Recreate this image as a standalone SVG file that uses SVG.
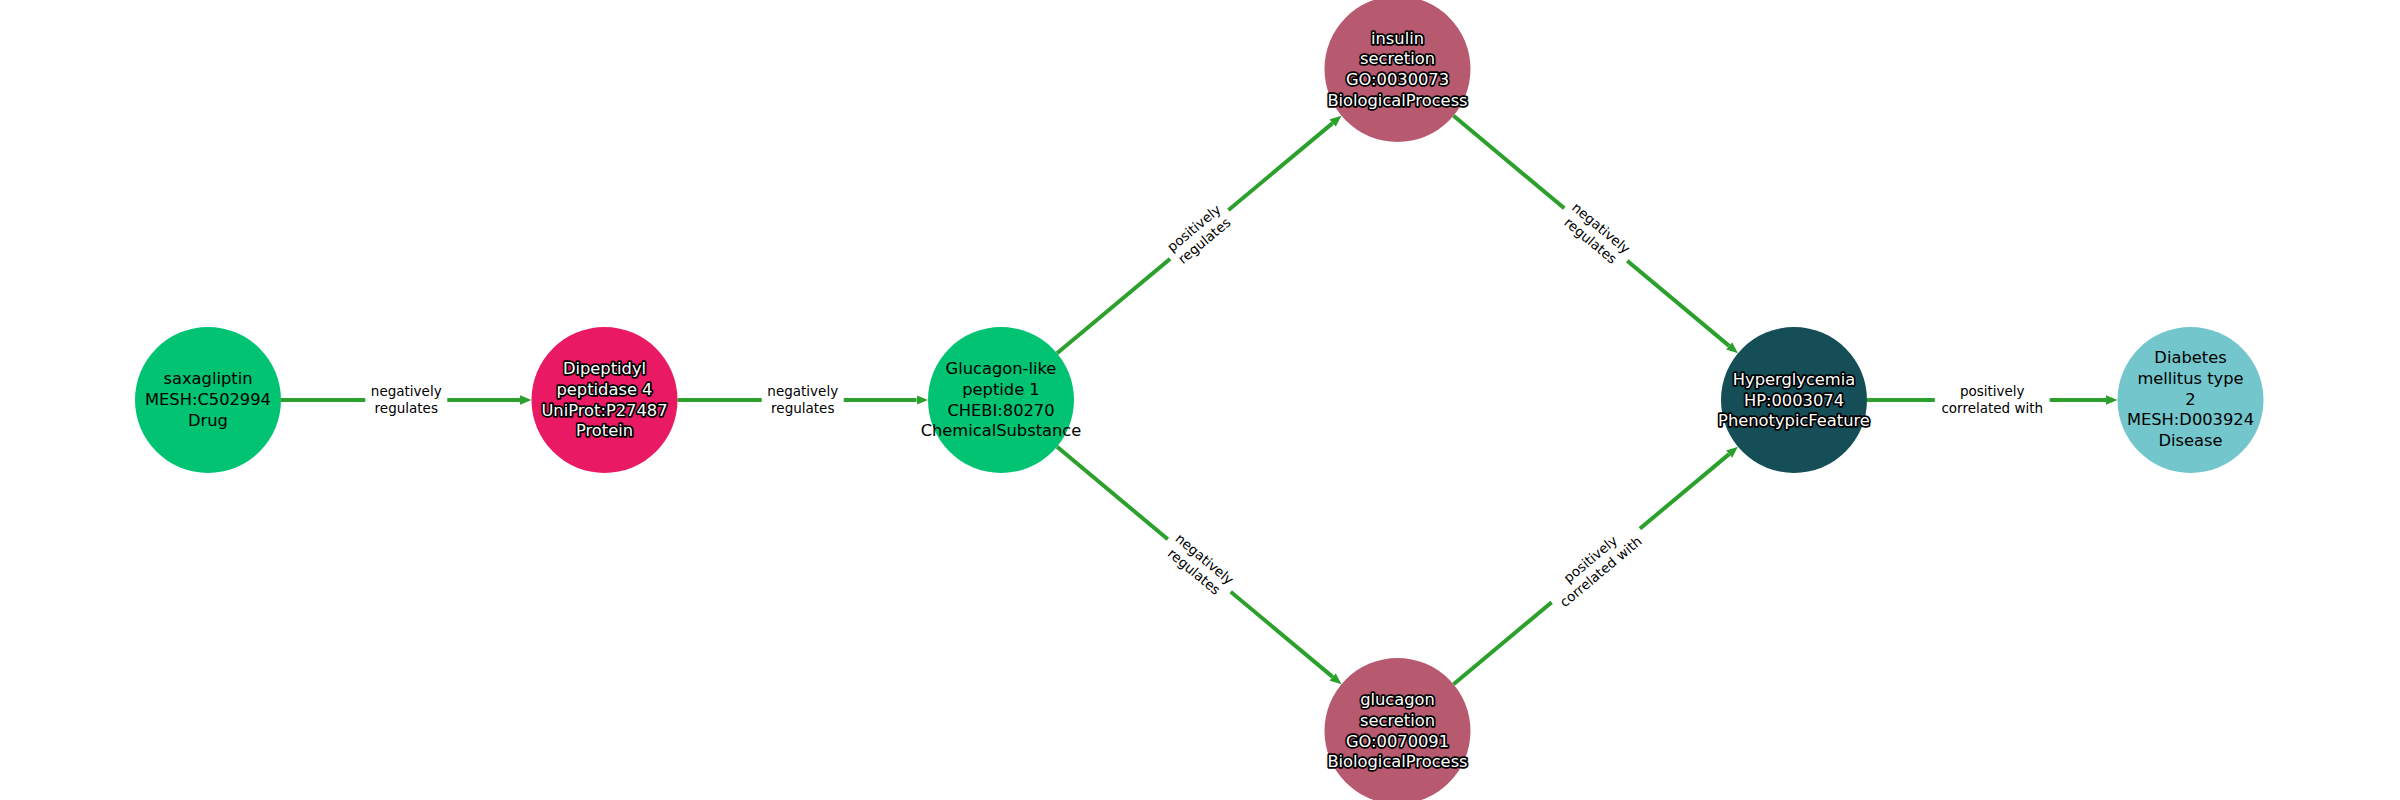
<svg xmlns="http://www.w3.org/2000/svg" width="2400" height="800" viewBox="0 0 2400 800">
<defs>
<style>
.edge{stroke:#2ca02c;stroke-width:4;fill:none}
.nl{font-family:"DejaVu Sans",sans-serif;font-size:16.3px;text-anchor:middle}
.dark{fill:#000}
.out{fill:#fff;stroke:#000;stroke-width:3.5;stroke-linejoin:round;paint-order:stroke}
.el{font-family:"DejaVu Sans",sans-serif;font-size:13.5px;text-anchor:middle;fill:#000}
.lb{fill:#fff}
</style>
<marker id="arr" markerUnits="userSpaceOnUse" markerWidth="13" markerHeight="10" refX="0" refY="4.75" orient="auto">
<path d="M0,0 L11.5,4.75 L0,9.5 z" fill="#2ca02c"/>
</marker>
</defs>
<rect width="2400" height="800" fill="#fff"/>
<g id="connectors">
<line class="edge" x1="281" y1="400" x2="520" y2="400" marker-end="url(#arr)"/>
<line class="edge" x1="677.5" y1="400" x2="916.5" y2="400" marker-end="url(#arr)"/>
<line class="edge" x1="1057.04" y1="353.22" x2="1332.63" y2="123.15" marker-end="url(#arr)"/>
<line class="edge" x1="1453.54" y1="115.78" x2="1729.13" y2="345.85" marker-end="url(#arr)"/>
<line class="edge" x1="1057.04" y1="446.78" x2="1332.63" y2="676.85" marker-end="url(#arr)"/>
<line class="edge" x1="1453.54" y1="684.22" x2="1729.13" y2="454.15" marker-end="url(#arr)"/>
<line class="edge" x1="1867" y1="400" x2="2106" y2="400" marker-end="url(#arr)"/>
<g transform="translate(406.25,400)"><rect class="lb" x="-41" y="-18" width="82" height="36"/><text class="el"><tspan x="0" y="-3.6">negatively</tspan><tspan x="0" y="12.7">regulates</tspan></text></g>
<g transform="translate(802.75,400)"><rect class="lb" x="-41" y="-18" width="82" height="36"/><text class="el"><tspan x="0" y="-3.6">negatively</tspan><tspan x="0" y="12.7">regulates</tspan></text></g>
<g transform="translate(1199.25,234.5) rotate(-39.86)"><rect class="lb" x="-38" y="-18" width="76" height="36"/><text class="el"><tspan x="0" y="-3.6">positively</tspan><tspan x="0" y="12.7">regulates</tspan></text></g>
<g transform="translate(1595.75,234.5) rotate(39.86)"><rect class="lb" x="-41" y="-18" width="82" height="36"/><text class="el"><tspan x="0" y="-3.6">negatively</tspan><tspan x="0" y="12.7">regulates</tspan></text></g>
<g transform="translate(1199.25,565.5) rotate(39.86)"><rect class="lb" x="-41" y="-18" width="82" height="36"/><text class="el"><tspan x="0" y="-3.6">negatively</tspan><tspan x="0" y="12.7">regulates</tspan></text></g>
<g transform="translate(1595.75,565.5) rotate(-39.86)"><rect class="lb" x="-57.5" y="-18" width="115" height="36"/><text class="el"><tspan x="0" y="-3.6">positively</tspan><tspan x="0" y="12.7">correlated with</tspan></text></g>
<g transform="translate(1992.25,400)"><rect class="lb" x="-57.5" y="-18" width="115" height="36"/><text class="el"><tspan x="0" y="-3.6">positively</tspan><tspan x="0" y="12.7">correlated with</tspan></text></g>
</g>
<g id="saxagliptin">
<circle cx="208" cy="400" r="73" fill="#02c372"/>
<text class="nl dark"><tspan x="208" y="384.2">saxagliptin</tspan><tspan x="208" dy="20.7">MESH:C502994</tspan><tspan x="208" dy="20.7">Drug</tspan></text>
</g>
<g id="dpp4">
<circle cx="604.5" cy="400" r="73" fill="#e91a63"/>
<text class="nl out"><tspan x="604.5" y="374.2">Dipeptidyl</tspan><tspan x="604.5" dy="20.7">peptidase 4</tspan><tspan x="604.5" dy="20.7">UniProt:P27487</tspan><tspan x="604.5" dy="20.7">Protein</tspan></text>
</g>
<g id="glp1">
<circle cx="1001" cy="400" r="73" fill="#02c372"/>
<text class="nl dark"><tspan x="1001" y="374.2">Glucagon-like</tspan><tspan x="1001" dy="20.7">peptide 1</tspan><tspan x="1001" dy="20.7">CHEBI:80270</tspan><tspan x="1001" dy="20.7">ChemicalSubstance</tspan></text>
</g>
<g id="insulin_secretion">
<circle cx="1397.5" cy="69" r="73" fill="#b75a70"/>
<text class="nl out"><tspan x="1397.5" y="43.6">insulin</tspan><tspan x="1397.5" dy="20.7">secretion</tspan><tspan x="1397.5" dy="20.7">GO:0030073</tspan><tspan x="1397.5" dy="20.7">BiologicalProcess</tspan></text>
</g>
<g id="glucagon_secretion">
<circle cx="1397.5" cy="731" r="73" fill="#b75a70"/>
<text class="nl out"><tspan x="1397.5" y="705.2">glucagon</tspan><tspan x="1397.5" dy="20.7">secretion</tspan><tspan x="1397.5" dy="20.7">GO:0070091</tspan><tspan x="1397.5" dy="20.7">BiologicalProcess</tspan></text>
</g>
<g id="hyperglycemia">
<circle cx="1794" cy="400" r="73" fill="#154e56"/>
<text class="nl out"><tspan x="1794" y="384.9">Hyperglycemia</tspan><tspan x="1794" dy="20.7">HP:0003074</tspan><tspan x="1794" dy="20.7">PhenotypicFeature</tspan></text>
</g>
<g id="diabetes">
<circle cx="2190.5" cy="400" r="73" fill="#72c6cc"/>
<text class="nl dark"><tspan x="2190.5" y="363.2">Diabetes</tspan><tspan x="2190.5" dy="20.7">mellitus type</tspan><tspan x="2190.5" dy="20.7">2</tspan><tspan x="2190.5" dy="20.7">MESH:D003924</tspan><tspan x="2190.5" dy="20.7">Disease</tspan></text>
</g>
</svg>
